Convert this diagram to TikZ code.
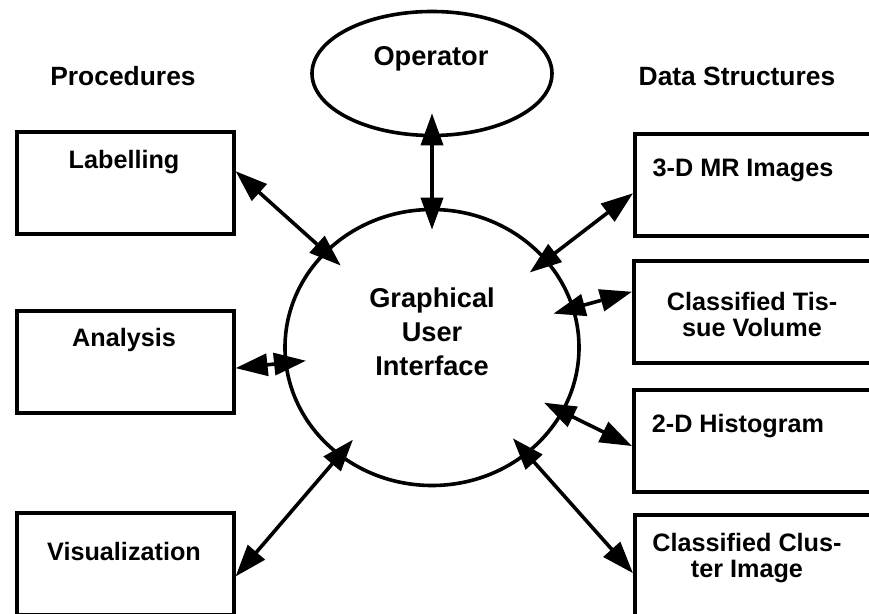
\documentclass[tikz,border=0pt]{standalone}
\usepackage{fontspec}
\setmainfont{Liberation Sans}
\usetikzlibrary{shapes.geometric,arrows.meta,calc}

\begin{document}
\begin{tikzpicture}[x=0.5pt,y=-0.5pt,
    box/.style={draw, line width=1.8pt, anchor=north west, minimum width=108.5pt, minimum height=51pt, inner sep=0pt},
    wide/.style={box, minimum width=130pt},
    hub/.style={ellipse, draw, line width=1.8pt, inner sep=0pt},
    head/.style={anchor=base, inner sep=0pt, font=\fontsize{13.2pt}{16pt}\selectfont\bfseries},
    tag/.style={anchor=base, inner sep=0pt, align=center, font=\fontsize{12.6pt}{13pt}\selectfont\bfseries},
    link/.style={line width=1.8pt, {Triangle[length=16pt,width=11pt]}-{Triangle[length=16pt,width=11pt]}, shorten >=-11pt}]
    \clip (0,0) rectangle (869,614);

    % procedures on the left, data structures on the right
    \node[box] (lab) at (15,130) {};
    \node[box] (ana) at (15,309) {};
    \node[box] (vis) at (15,511) {};
    \node[wide] (mri) at (633,132) {};
    \node[wide] (tis) at (632,259) {};
    \node[wide] (his) at (632,388) {};
    \node[wide] (clu) at (633,513) {};

    \node[hub, minimum width=120pt, minimum height=62pt] (op) at (432,73.5) {};
    \node[hub, minimum width=147pt, minimum height=138pt] (gui) at (432,347.5) {};

    % texts (multi-line ones sit on their last line)
    \node[head] (proc) at (123,86) {Procedures};
    \node[head] (data) at (737,86) {Data Structures};
    \node[head, font=\fontsize{13.6pt}{17pt}\selectfont\bfseries] (optext) at (431,66) {Operator};
    \node[head, align=center, font=\fontsize{13.6pt}{17pt}\selectfont\bfseries] (guitext) at (432,376) {Graphical\\User\\Interface};
    \node[tag] (labtext) at (124,169) {Labelling};
    \node[tag] (anatext) at (124,347) {Analysis};
    \node[tag] (vistext) at (124,561) {Visualization};
    \node[tag] (mritext) at (743,177) {3-D MR Images};
    \node[tag] (tistext) at (752,337) {Classified Tis-\\sue Volume};
    \node[tag] (histext) at (738,433) {2-D Histogram};
    \node[tag] (clutext) at (747,578) {Classified Clus-\\ter Image};

    % links to the interface
    \draw[link, shorten <=-12pt] (op) -- (gui);
    \draw[link] ($(lab.north east)!0.39!(lab.south east)$) -- (gui);
    \draw[link] ($(ana.north east)!0.56!(ana.south east)$) -- (gui);
    \draw[link] ($(vis.north east)!0.62!(vis.south east)$) -- (gui);
    \draw[link] ($(mri.north west)!0.58!(mri.south west)$) -- (gui);
    \draw[link] ($(tis.north west)!0.31!(tis.south west)$) -- (gui);
    \draw[link] ($(his.north west)!0.55!(his.south west)$) -- (gui);
    \draw[link] ($(clu.north west)!0.57!(clu.south west)$) -- (gui);
\end{tikzpicture}
\end{document}
